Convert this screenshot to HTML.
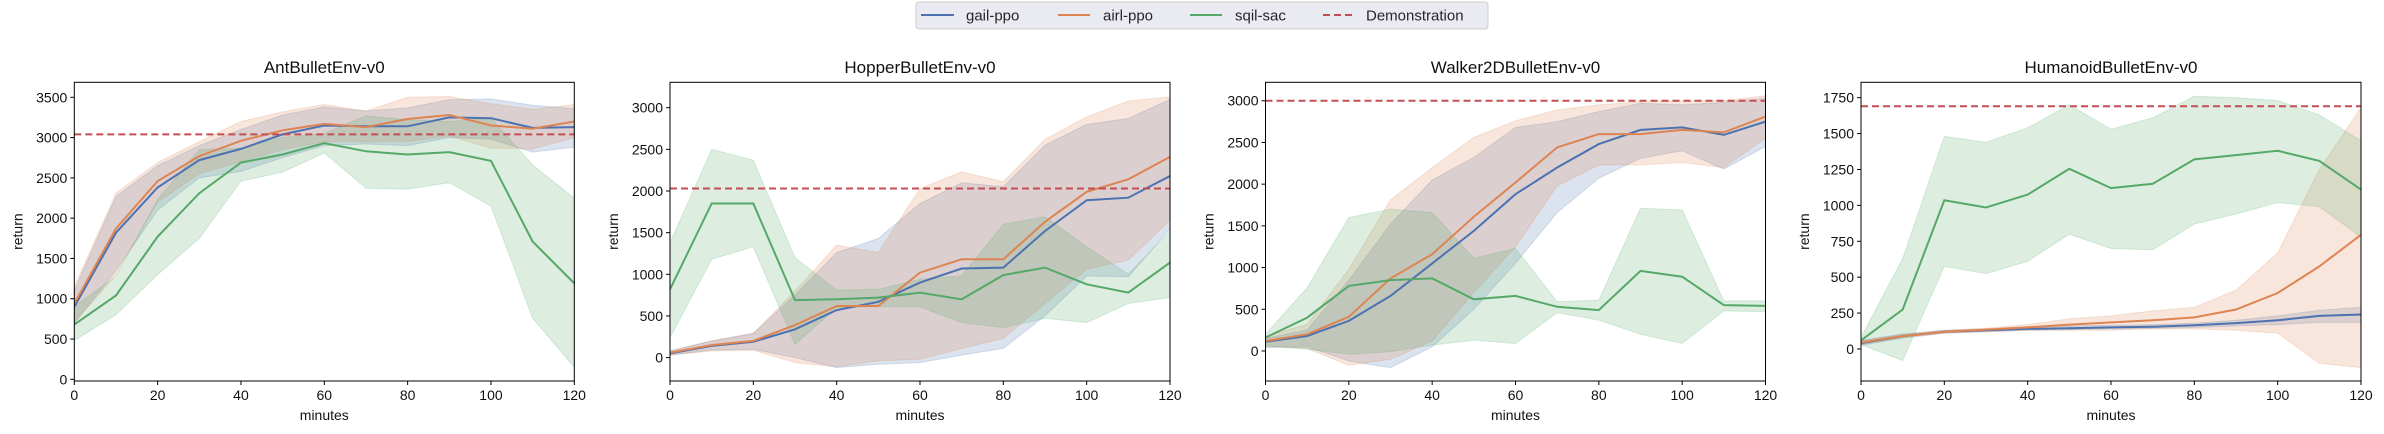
<!DOCTYPE html>
<html><head><meta charset="utf-8">
<style>
html,body{margin:0;padding:0;background:#fff;}
svg{display:block;font-family:"Liberation Sans","DejaVu Sans",sans-serif;}
</style></head>
<body>
<svg id="chart" width="2384" height="434" viewBox="0 0 2384 434" xmlns="http://www.w3.org/2000/svg">
<g id="legend">
<rect x="916" y="2" width="572" height="27" rx="3" fill="#eaeaf2" stroke="#cccccc" stroke-width="1"/>
<g><line x1="921" y1="15" x2="954" y2="15" stroke="#4c72b0" stroke-width="2"/><text x="966" y="20.5" font-size="15" fill="#262626">gail-ppo</text></g>
<g><line x1="1058" y1="15" x2="1090" y2="15" stroke="#dd8452" stroke-width="2"/><text x="1103" y="20.5" font-size="15" fill="#262626">airl-ppo</text></g>
<g><line x1="1190" y1="15" x2="1222" y2="15" stroke="#55a868" stroke-width="2"/><text x="1235" y="20.5" font-size="15" fill="#262626">sqil-sac</text></g>
<g><line x1="1323" y1="15" x2="1354" y2="15" stroke="#c44e52" stroke-width="2" stroke-dasharray="7,4"/><text x="1366" y="20.5" font-size="15" fill="#262626">Demonstration</text></g>
</g>
</svg>
<script>
const minutes=[0,10,20,30,40,50,60,70,80,90,100,110,120];
const xTicks=[0,20,40,60,80,100,120];
// Ant
const antGail=[900,1820,2380,2720,2860,3040,3150,3140,3140,3250,3240,3120,3130];
const antGailLo=[700,1350,2100,2500,2580,2750,2900,2920,2900,3000,2980,2820,2880];
const antGailHi=[1100,2270,2650,2900,3100,3280,3380,3330,3370,3470,3480,3400,3360];
const antAirl=[940,1870,2460,2770,2960,3090,3170,3130,3230,3280,3150,3110,3200];
const antAirlLo=[700,1300,2200,2550,2700,2850,2950,2950,2950,3020,2870,2860,3000];
const antAirlHi=[1150,2310,2690,2950,3200,3320,3410,3330,3500,3510,3420,3350,3410];
const antSqil=[680,1040,1770,2310,2690,2790,2930,2830,2790,2820,2710,1710,1190];
const antSqilLo=[480,800,1300,1750,2460,2570,2810,2370,2360,2440,2150,760,150];
const antSqilHi=[900,1280,2230,2850,2870,3000,3050,3270,3220,3200,3240,2660,2250];
const antDemo=3040;
const antYTicks=[0,500,1000,1500,2000,2500,3000,3500];
// Hopper
const hopGail=[50,140,190,340,570,670,900,1070,1080,1520,1890,1920,2180];
const hopGailLo=[30,90,100,0,-120,-80,-60,30,110,500,980,970,1550];
const hopGailHi=[80,200,290,750,1260,1430,1850,2100,2050,2550,2800,2870,3100];
const hopAirl=[60,150,200,390,620,620,1020,1180,1180,1630,1990,2140,2410];
const hopAirlLo=[30,80,90,-60,-110,-40,-20,110,230,650,1060,1170,1650];
const hopAirlHi=[80,200,290,800,1350,1260,2030,2230,2110,2620,2890,3080,3130];
const hopSqil=[820,1850,1850,690,700,720,780,700,990,1080,880,780,1140];
const hopSqilLo=[240,1180,1330,160,600,610,610,420,360,470,420,650,720];
const hopSqilHi=[1380,2500,2370,1200,810,820,940,980,1600,1690,1330,1000,1520];
const hopDemo=2030;
const hopYTicks=[0,500,1000,1500,2000,2500,3000];
// Walker
const walGail=[110,180,360,660,1050,1440,1880,2200,2480,2650,2680,2590,2750];
const walGailLo=[40,50,-120,-200,50,500,1050,1660,2070,2310,2400,2180,2450];
const walGailHi=[150,250,850,1520,2050,2320,2680,2750,2870,2970,2950,2980,3030];
const walAirl=[120,200,410,870,1160,1610,2020,2440,2600,2600,2650,2620,2810];
const walAirlLo=[60,30,-170,-100,120,700,1250,1980,2230,2230,2260,2200,2550];
const walAirlHi=[180,320,980,1810,2200,2560,2760,2890,2950,2990,3000,3000,3060];
const walSqil=[160,400,780,850,870,620,660,530,490,960,890,550,540];
const walSqilLo=[60,20,-40,-10,70,130,90,460,370,200,90,480,470];
const walSqilHi=[200,760,1600,1700,1660,1110,1230,590,610,1710,1690,600,600];
const walDemo=3000;
const walYTicks=[0,500,1000,1500,2000,2500,3000];
// Humanoid
const humGail=[40,90,120,130,140,145,150,155,165,180,200,230,240];
const humGailLo=[25,75,110,120,130,135,140,145,150,160,170,185,185];
const humGailHi=[60,105,130,140,155,160,165,170,180,200,230,270,290];
const humAirl=[45,90,120,135,150,170,185,200,220,275,390,575,795];
const humAirlLo=[30,80,110,120,130,130,130,140,140,130,110,-100,-130];
const humAirlHi=[60,100,130,145,170,210,230,265,290,410,670,1250,1680];
const humSqil=[60,275,1035,985,1075,1255,1120,1150,1320,1350,1380,1310,1110];
const humSqilLo=[30,-80,575,525,610,800,700,690,870,940,1020,990,780];
const humSqilHi=[80,630,1480,1440,1540,1700,1530,1610,1760,1750,1730,1630,1450];
const humDemo=1690;
const humYTicks=[0,250,500,750,1000,1250,1500,1750];

const NS="http://www.w3.org/2000/svg";
const svg=document.getElementById('chart');
function mk(tag,attrs,parent){const e=document.createElementNS(NS,tag);for(const k in attrs)e.setAttribute(k,attrs[k]);parent.appendChild(e);return e;}
const C={gail:'#4c72b0',airl:'#dd8452',sqil:'#55a868',demo:'#c44e52'};
const panels=[
 {id:'ant',title:'AntBulletEnv-v0',L:74.3,R:574.3,ymin:-21,ymax:3686,yt:antYTicks,demo:antDemo,
  s:[['gail',antGail,antGailLo,antGailHi],['airl',antAirl,antAirlLo,antAirlHi],['sqil',antSqil,antSqilLo,antSqilHi]]},
 {id:'hopper',title:'HopperBulletEnv-v0',L:670,R:1170,ymin:-281,ymax:3305,yt:hopYTicks,demo:hopDemo,
  s:[['gail',hopGail,hopGailLo,hopGailHi],['airl',hopAirl,hopAirlLo,hopAirlHi],['sqil',hopSqil,hopSqilLo,hopSqilHi]]},
 {id:'walker',title:'Walker2DBulletEnv-v0',L:1265.5,R:1765.5,ymin:-360,ymax:3221,yt:walYTicks,demo:walDemo,
  s:[['gail',walGail,walGailLo,walGailHi],['airl',walAirl,walAirlLo,walAirlHi],['sqil',walSqil,walSqilLo,walSqilHi]]},
 {id:'humanoid',title:'HumanoidBulletEnv-v0',L:1861,R:2361,ymin:-223,ymax:1857,yt:humYTicks,demo:humDemo,
  s:[['gail',humGail,humGailLo,humGailHi],['airl',humAirl,humAirlLo,humAirlHi],['sqil',humSqil,humSqilLo,humSqilHi]]}
];
const T=82.3,B=381;
panels.forEach(p=>{
 const g=mk('g',{},svg);
 
 
 const xs=v=>p.L+(v-0)/120*(p.R-p.L);
 const ys=v=>B-(v-p.ymin)/(p.ymax-p.ymin)*(B-T);
 const cid='clip-'+p.id;
 const cp=mk('clipPath',{id:cid},g);mk('rect',{x:p.L,y:T,width:p.R-p.L,height:B-T},cp);
 const plot=mk('g',{'clip-path':'url(#'+cid+')'},g);
 p.s.forEach(([k,m,lo,hi])=>{
  let d='M'+minutes.map((x,i)=>xs(x).toFixed(1)+','+ys(hi[i]).toFixed(1)).join('L');
  for(let i=minutes.length-1;i>=0;i--)d+='L'+xs(minutes[i]).toFixed(1)+','+ys(lo[i]).toFixed(1);
  const band=mk('path',{d:d+'Z',fill:C[k],'fill-opacity':0.2,stroke:C[k],'stroke-opacity':0.2},plot);
  
  
 });
 p.s.forEach(([k,m])=>{
  const ln=mk('polyline',{points:minutes.map((x,i)=>xs(x).toFixed(1)+','+ys(m[i]).toFixed(1)).join(' '),fill:'none',stroke:C[k],'stroke-width':2},plot);
  
  
 });
 const dl=mk('line',{x1:p.L,x2:p.R,y1:ys(p.demo),y2:ys(p.demo),stroke:C.demo,'stroke-width':2,'stroke-dasharray':'7,4'},plot);
 
 
 const fr=mk('rect',{x:p.L,y:T,width:p.R-p.L,height:B-T,fill:'none',stroke:'#000','stroke-width':1},g);
 
 
 xTicks.forEach(v=>{
  mk('line',{x1:xs(v),x2:xs(v),y1:B,y2:B+4,stroke:'#000'},g);
  const t=mk('text',{x:xs(v),y:B+19,'font-size':14,'text-anchor':'middle',fill:'#111'},g);t.textContent=v;
  
  
 });
 p.yt.forEach(v=>{
  mk('line',{x1:p.L-4,x2:p.L,y1:ys(v),y2:ys(v),stroke:'#000'},g);
  const t=mk('text',{x:p.L-7,y:ys(v)+5,'font-size':14,'text-anchor':'end',fill:'#111'},g);t.textContent=v;
  
  
 });
 const tt=mk('text',{x:(p.L+p.R)/2,y:73,'font-size':17,'text-anchor':'middle',fill:'#111'},g);tt.textContent=p.title;
 
 
 const xl=mk('text',{x:(p.L+p.R)/2,y:420,'font-size':14,'text-anchor':'middle',fill:'#111'},g);xl.textContent='minutes';
 
 
 const yl=mk('text',{x:0,y:0,'font-size':14,'text-anchor':'middle',fill:'#111',transform:'translate('+(p.L-52)+','+((T+B)/2)+') rotate(-90)'},g);yl.textContent='return';
 
 
});
</script>
</body></html>
